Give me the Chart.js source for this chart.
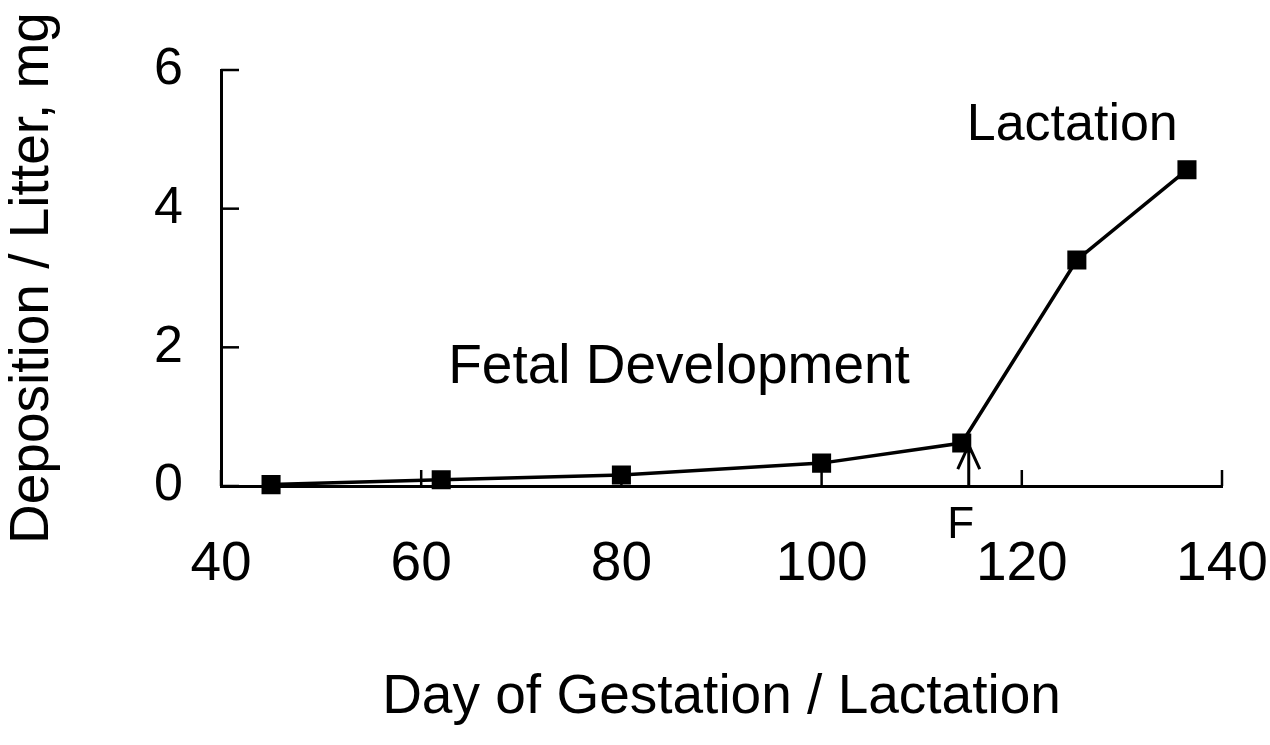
<!DOCTYPE html>
<html>
<head>
<meta charset="utf-8">
<script src="https://cdn.jsdelivr.net/npm/chart.js@4"></script>
<style>
  body { margin: 0; background: #fff; }
  #wrap { width: 1270px; height: 745px; }
</style>
</head>
<body>
<div id="wrap"><canvas id="chart"></canvas></div>
<script>
// data
const days = [45, 62, 80, 100, 114, 125.5, 136.5];
const deposition = [0.02, 0.09, 0.16, 0.33, 0.62, 3.26, 4.56];
const xTicks = [40, 60, 80, 100, 120, 140];
const yTicks = [0, 2, 4, 6];

// text labels inside the plot (data coordinates, left/baseline)
const notes = [
  { text: "Fetal Development", x: 62.7, y: 1.49, size: 55, align: "left" },
  { text: "Lactation", x: 114.5, y: 4.99, size: 52, align: "left" },
  { text: "F", x: 113.9, y: -0.75, size: 44, align: "center" },
];
// arrow marking parturition
const arrowDay = 114.7;
const arrowTip = 0.59;

const FONT = "'Liberation Sans', Arial, Helvetica, sans-serif";

// ticks pointing into the plot, arrow and text notes
const extras = {
  id: "extras",
  afterDraw(chart) {
    const { ctx, chartArea, scales: { x, y } } = chart;
    ctx.save();
    ctx.strokeStyle = "#000";
    ctx.lineWidth = 2.5;
    xTicks.forEach((v) => {
      const px = x.getPixelForValue(v);
      ctx.beginPath();
      ctx.moveTo(px, chartArea.bottom);
      ctx.lineTo(px, chartArea.bottom - 16);
      ctx.stroke();
    });
    yTicks.forEach((v) => {
      const py = y.getPixelForValue(v);
      ctx.beginPath();
      ctx.moveTo(chartArea.left, py);
      ctx.lineTo(chartArea.left + 18, py);
      ctx.stroke();
    });

    // arrow
    const ax = x.getPixelForValue(arrowDay);
    const ay0 = y.getPixelForValue(0);
    const ay1 = y.getPixelForValue(arrowTip);
    ctx.lineWidth = 3;
    ctx.beginPath();
    ctx.moveTo(ax, ay0);
    ctx.lineTo(ax, ay1);
    ctx.moveTo(ax - 11, ay1 + 24);
    ctx.lineTo(ax, ay1);
    ctx.lineTo(ax + 11, ay1 + 24);
    ctx.stroke();

    ctx.fillStyle = "#000";
    ctx.textBaseline = "alphabetic";
    notes.forEach((n) => {
      ctx.font = n.size + "px " + FONT;
      ctx.textAlign = n.align;
      ctx.fillText(n.text, x.getPixelForValue(n.x), y.getPixelForValue(n.y));
    });
    ctx.restore();
  },
};

new Chart(document.getElementById("chart"), {
  type: "line",
  data: {
    datasets: [
      {
        data: days.map((d, i) => ({ x: d, y: deposition[i] })),
        borderColor: "#000",
        backgroundColor: "#000",
        borderWidth: 3.5,
        pointStyle: "rect",
        pointRadius: 11,
        pointHoverRadius: 11,
        tension: 0,
        clip: false,
      },
    ],
  },
  options: {
    responsive: true,
    maintainAspectRatio: false,
    animation: false,
    events: [],
    layout: { padding: { top: 70, right: 48, left: 0, bottom: 0 } },
    plugins: { legend: { display: false }, tooltip: { enabled: false } },
    scales: {
      x: {
        type: "linear",
        min: 40,
        max: 140,
        afterFit: (s) => {
          s.height = 259;
          s.paddingLeft = 0;
          s.paddingRight = 0;
        },
        afterBuildTicks: (s) => { s.ticks = xTicks.map((v) => ({ value: v })); },
        grid: { display: false, drawTicks: false },
        border: { display: true, color: "#000", width: 3 },
        ticks: {
          color: "#000",
          padding: 46,
          maxRotation: 0,
          font: { family: FONT, size: 55 },
        },
        title: {
          display: true,
          text: "Day of Gestation / Lactation",
          color: "#000",
          font: { family: FONT, size: 55 },
          padding: { top: 0, bottom: 14 },
        },
      },
      y: {
        min: 0,
        max: 6,
        afterFit: (s) => {
          s.width = 221;
          s.paddingTop = 0;
          s.paddingBottom = 0;
        },
        afterBuildTicks: (s) => { s.ticks = yTicks.map((v) => ({ value: v })); },
        grid: { display: false, drawTicks: false },
        border: { display: true, color: "#000", width: 3 },
        ticks: {
          color: "#000",
          padding: 38,
          font: { family: FONT, size: 52 },
        },
        title: {
          display: true,
          text: "Deposition / Litter, mg",
          color: "#000",
          font: { family: FONT, size: 55 },
          padding: { top: 0, bottom: 0 },
        },
      },
    },
  },
  plugins: [extras],
});
</script>
</body>
</html>
